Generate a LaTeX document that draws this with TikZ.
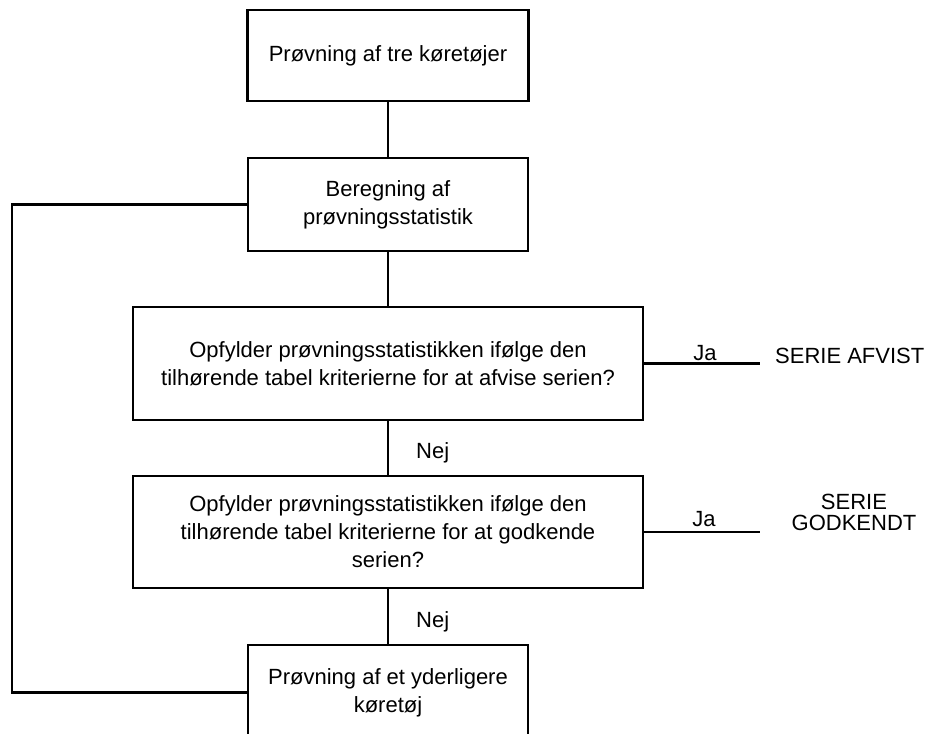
\documentclass[tikz,border=0pt]{standalone}
\usepackage{fontspec}
\setmainfont{Liberation Sans}
\begin{document}
\begin{tikzpicture}[x=1pt,y=-1pt,
  every node/.style={font=\fontsize{22}{28}\selectfont, inner sep=0pt},
  boxnode/.style={draw, line width=2.5pt, align=center, rectangle},
  link/.style={line width=2.5pt},
  lbl/.style={anchor=base}]
\useasboundingbox (0,0) rectangle (930,734);
\node[boxnode, minimum width=281, minimum height=91] (b1) at (388,55.5) {Prøvning af tre køretøjer};
\node[boxnode, minimum width=280, minimum height=93] (b2) at (388,204.5) {Beregning af\\prøvningsstatistik};
\node[boxnode, minimum width=510, minimum height=113] (b3) at (388,363.5) {Opfylder prøvningsstatistikken ifølge den\\tilhørende tabel kriterierne for at afvise serien?};
\node[boxnode, minimum width=510, minimum height=112] (b4) at (388,532) {Opfylder prøvningsstatistikken ifølge den\\tilhørende tabel kriterierne for at godkende\\serien?};
\node[boxnode, minimum width=280, minimum height=95] (b5) at (388,692.5) {Prøvning af et yderligere\\køretøj};
\draw[link] (b1) -- (b2);
\draw[link] (b2) -- (b3);
\draw[link] (b3) -- (b4);
\draw[link] (b4) -- (b5);
\coordinate (lp) at (12,0);
\draw[link] (b2.west) -- (b2.west -| lp) -- (b5.west -| lp) -- (b5.west);
\coordinate (je) at (760,0);
\draw[link] (b3.east) -- (b3.east -| je);
\draw[link] (b4.east) -- (b4.east -| je);
\node[lbl] (ja1) at (705,360) {Ja};
\node[lbl] (ja2) at (704,526) {Ja};
\node[lbl, anchor=base west] (r1) at (775,363) {SERIE AFVIST};
\node[lbl] (r2a) at (854,509) {SERIE};
\node[lbl] (r2b) at (854,530) {GODKENDT};
\node[lbl, anchor=base west] (n1) at (416,458) {Nej};
\node[lbl, anchor=base west] (n2) at (416,627) {Nej};
\end{tikzpicture}
\end{document}
